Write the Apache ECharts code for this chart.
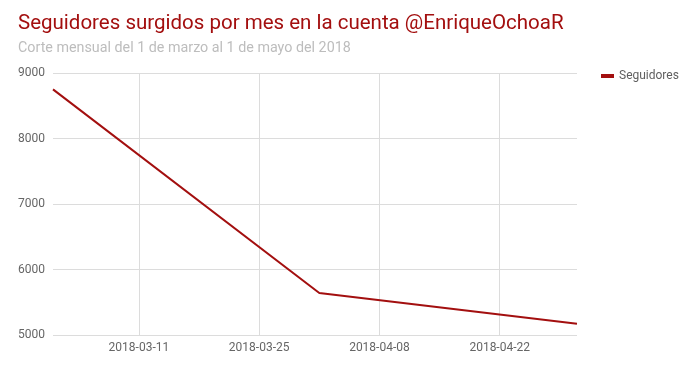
<!DOCTYPE html>
<html>
<head>
<meta charset="utf-8">
<script src="https://cdn.jsdelivr.net/npm/echarts@6/dist/echarts.min.js"></script>
<style>html,body{margin:0;padding:0;background:#fff}#c{width:700px;height:370px}</style>
</head>
<body>
<div id="c"></div>
<script>
const titleText = 'Seguidores surgidos por mes en la cuenta @EnriqueOchoaR';
const subtitleText = 'Corte mensual del 1 de marzo al 1 de mayo del 2018';
const seriesName = 'Seguidores';
const dates = ['2018-03-01', '2018-04-01', '2018-05-01'];
const followers = [8750, 5640, 5170];
const xTickDates = ['2018-03-11', '2018-03-25', '2018-04-08', '2018-04-22'];
const yTicks = [5000, 6000, 7000, 8000, 9000];

function ts(s) { const p = s.split('-').map(Number); return new Date(p[0], p[1] - 1, p[2]).getTime(); }
function fmt(v) {
  const d = new Date(v);
  const m = String(d.getMonth() + 1).padStart(2, '0');
  const dd = String(d.getDate()).padStart(2, '0');
  return d.getFullYear() + '-' + m + '-' + dd;
}
const xTicks = xTickDates.map(ts);
const red = '#a30f0f';

const chart = echarts.init(document.getElementById('c'), null, { renderer: 'canvas' });
chart.setOption({
  animation: false,
  backgroundColor: '#fff',
  textStyle: { fontFamily: 'Roboto' },
  title: {
    text: titleText,
    subtext: subtitleText,
    left: 13,
    top: 8,
    itemGap: 7,
    textStyle: { fontFamily: 'Roboto', fontSize: 20.5, fontWeight: 'normal', color: red },
    subtextStyle: { fontFamily: 'Roboto', fontSize: 14.3, color: '#bdbdbd' }
  },
  legend: {
    data: [seriesName],
    left: 596,
    top: 65,
    icon: 'rect',
    itemWidth: 13,
    itemHeight: 4,
    itemGap: 8,
    textStyle: { fontFamily: 'Roboto', fontSize: 12, color: '#5f5f5f' }
  },
  grid: { left: 53, right: 123, top: 73, bottom: 35, containLabel: false },
  xAxis: {
    type: 'value',
    min: ts(dates[0]),
    max: ts(dates[dates.length - 1]),
    axisLine: { show: false },
    axisTick: { show: false, customValues: xTicks },
    axisLabel: {
      customValues: xTicks,
      formatter: v => fmt(v),
      fontFamily: 'Roboto', fontSize: 12, color: '#666', margin: 7
    },
    splitLine: { show: true, lineStyle: { color: '#dcdcdc', width: 1 } }
  },
  yAxis: {
    type: 'value',
    min: yTicks[0],
    max: yTicks[yTicks.length - 1],
    interval: 1000,
    axisLine: { show: false },
    axisTick: { show: false },
    axisLabel: { formatter: v => String(v), fontFamily: 'Roboto', fontSize: 12, color: '#666', margin: 8 },
    splitLine: { show: true, lineStyle: { color: '#dcdcdc', width: 1 } }
  },
  series: [{
    name: seriesName,
    type: 'line',
    data: dates.map((d, i) => [ts(d), followers[i]]),
    showSymbol: false,
    symbol: 'none',
    lineStyle: { color: red, width: 2 },
    itemStyle: { color: red }
  }]
});
</script>
</body>
</html>
